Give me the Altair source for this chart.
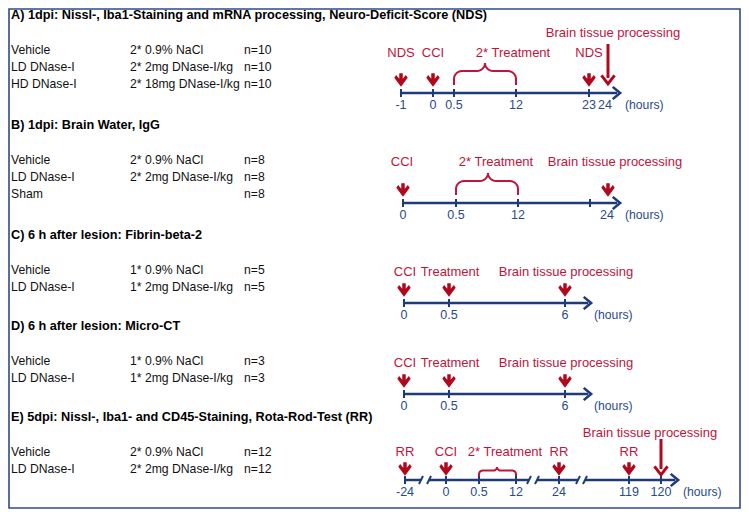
import altair as alt
import pandas as pd
import numpy as np

# ---------------- content ----------------
titles = [
    "A) 1dpi: Nissl-, Iba1-Staining and mRNA processing, Neuro-Deficit-Score (NDS)",
    "B) 1dpi: Brain Water, IgG",
    "C) 6 h after lesion: Fibrin-beta-2",
    "D) 6 h after lesion: Micro-CT",
    "E) 5dpi: Nissl-, Iba1- and CD45-Staining, Rota-Rod-Test (RR)",
]
groups = ["Vehicle", "LD DNase-I", "HD DNase-I",
          "Vehicle", "LD DNase-I", "Sham",
          "Vehicle", "LD DNase-I",
          "Vehicle", "LD DNase-I",
          "Vehicle", "LD DNase-I"]
doses = ["2* 0.9% NaCl", "2* 2mg DNase-I/kg", "2* 18mg DNase-I/kg",
         "2* 0.9% NaCl", "2* 2mg DNase-I/kg", "",
         "1* 0.9% NaCl", "1* 2mg DNase-I/kg",
         "1* 0.9% NaCl", "1* 2mg DNase-I/kg",
         "2* 0.9% NaCl", "2* 2mg DNase-I/kg"]
ns = ["n=10", "n=10", "n=10", "n=8", "n=8", "n=8",
      "n=5", "n=5", "n=3", "n=3", "n=12", "n=12"]

hours_A = ["-1", "0", "0.5", "12", "23", "24"]
hours_B = ["0", "0.5", "12", "24"]
hours_C = ["0", "0.5", "6"]
hours_D = ["0", "0.5", "6"]
hours_E = ["-24", "0", "0.5", "12", "24", "119", "120"]

events_A = ["NDS", "CCI", "2* Treatment", "NDS", "Brain tissue processing"]
events_B = ["CCI", "2* Treatment", "Brain tissue processing"]
events_C = ["CCI", "Treatment", "Brain tissue processing"]
events_D = ["CCI", "Treatment", "Brain tissue processing"]
events_E = ["RR", "CCI", "2* Treatment", "RR", "RR", "Brain tissue processing"]

# ---------------- layout (pixel positions of the schematic) ----------------
title_y = [15, 125, 235, 326, 417]
row_y = [50, 67, 84, 160, 177, 194, 270, 287, 361, 378, 452, 469]
col_x = [11, 130, 244]

axis_y = [93, 203, 303, 394, 480]
hx_A = [401, 433, 454, 516, 589, 605]
hx_B = [403, 456, 518, 607]
hx_C = [404, 449, 565]
hx_D = [404, 449, 565]
hx_E = [405, 446, 479, 516, 559, 629, 661]
ticks_x = [[401, 433, 454, 516, 589], [403, 456, 518, 590], [404, 449, 565],
           [404, 449, 565], [405, 446, 479, 516, 559, 629, 661]]
hours_unit_x = [625, 625, 594, 594, 683]
segments = [[(401, 617)], [(403, 617)], [(404, 588)], [(404, 588)],
            [(405, 421), (429, 529), (537, 578), (585, 675)]]
tips = [620, 620, 591, 591, 678]
breaks_E = [421, 429, 529, 537, 578, 585]

ev_x = [[401, 433, 513, 589, 613], [402, 496, 615], [405, 450, 566],
        [405, 450, 566], [405, 446, 505, 559, 629, 650]]
ev_y = [[53, 53, 53, 53, 33], [162, 162, 162], [272, 272, 272],
        [363, 363, 363], [452, 452, 452, 452, 452, 433]]

short_x = [[401, 433, 589], [403, 608], [404, 449, 565], [404, 449, 565],
           [405, 446, 559, 629]]
short_y = [80, 190, 290, 381, 469]
long_arrows = [(608, 44, 84), (661, 439, 475)]
braces = [(454, 516, 485, 63, 85), (456, 518, 488, 173, 195), (479, 516, 497, 467, 476)]

RED = "#C0143C"
DARKRED = "#B2081E"
NAVY = "#1E3A78"
TICKC = "#2A4A8A"
FRAME = "#2F4C86"
FONT = "Liberation Sans"

XS = alt.Scale(domain=[8, 741], nice=False, zero=False)
YS = alt.Scale(domain=[8, 509], reverse=True, nice=False, zero=False)


def X(f="x"):
    return alt.X(f"{f}:Q", scale=XS, axis=None)


def Y(f="y"):
    return alt.Y(f"{f}:Q", scale=YS, axis=None)


# ---------------- tables ----------------
frame_df = pd.DataFrame({"x": [9], "x2": [740], "y": [9], "y2": [508]})
title_df = pd.DataFrame({"t": titles, "x": col_x[0], "y": title_y})
rows = []
for g, d, n, y in zip(groups, doses, ns, row_y):
    rows += [{"t": g, "x": col_x[0], "y": y}, {"t": d, "x": col_x[1], "y": y},
             {"t": n, "x": col_x[2], "y": y}]
rows_df = pd.DataFrame(rows)

hours_all = [hours_A, hours_B, hours_C, hours_D, hours_E]
hx_all = [hx_A, hx_B, hx_C, hx_D, hx_E]
lab = []
for p in range(5):
    for h, x in zip(hours_all[p], hx_all[p]):
        lab.append({"t": h, "x": x, "y": axis_y[p] + 12})
lab_df = pd.DataFrame(lab)
unit_df = pd.DataFrame({"t": ["(hours)"] * 5, "x": hours_unit_x,
                        "y": [a + 12 for a in axis_y]})

seg = []
for p in range(5):
    for a, b in segments[p]:
        seg.append({"x": a, "x2": b, "y": axis_y[p]})
seg_df = pd.DataFrame(seg)

tk = []
for p in range(5):
    for x in ticks_x[p]:
        tk.append({"x": x, "y": axis_y[p] - 4, "y2": axis_y[p] + 4})
for x in [421, 529, 578]:
    pass
tick_df = pd.DataFrame(tk)
brk_df = pd.DataFrame({"x": [b - 2 for b in breaks_E], "x2": [b + 2 for b in breaks_E],
                       "y": axis_y[4] + 4, "y2": axis_y[4] - 4})
tip_df = pd.DataFrame({"x": [t - 3.6 for t in tips], "y": axis_y})

ev_all = [events_A, events_B, events_C, events_D, events_E]
ev = []
for p in range(5):
    for t, x, y in zip(ev_all[p], ev_x[p], ev_y[p]):
        ev.append({"t": t, "x": x, "y": y})
ev_df = pd.DataFrame(ev)

sa = []
for p in range(5):
    for x in short_x[p]:
        sa.append({"x": x, "y": short_y[p]})
short_df = pd.DataFrame(sa)
long_df = pd.DataFrame({"x": [a[0] for a in long_arrows], "y": [a[1] for a in long_arrows],
                        "y2": [a[2] - 6 for a in long_arrows]})
head_df = pd.DataFrame({"x": [a[0] for a in long_arrows], "y": [a[2] - 4 for a in long_arrows]})


def brace_pts(x1, x2, xt, yt, yb):
    r = min((yb - yt) * 0.4, 8)
    yh = yt + r
    pts = []
    # left end, going up
    pts.append((x1, yb))
    th = np.linspace(np.pi, 1.5 * np.pi, 8)
    for a in th:
        pts.append((x1 + r + r * np.cos(a), yh + r + r * np.sin(a)))
    th = np.linspace(0.5 * np.pi, 0, 8)
    for a in th:
        pts.append((xt - r + r * np.cos(a), yh - r + r * np.sin(a)))
    pts.append((xt, yt))
    th = np.linspace(np.pi, 0.5 * np.pi, 8)
    for a in th:
        pts.append((xt + r + r * np.cos(a), yh - r + r * np.sin(a)))
    th = np.linspace(1.5 * np.pi, 2 * np.pi, 8)
    for a in th:
        pts.append((x2 - r + r * np.cos(a), yh + r + r * np.sin(a)))
    pts.append((x2, yb))
    return pts


br = []
for i, (x1, x2, xt, yt, yb) in enumerate(braces):
    for k, (px, py) in enumerate(brace_pts(x1, x2, xt, yt, yb)):
        br.append({"id": i, "o": k, "x": px, "y": py})
brace_df = pd.DataFrame(br)

# ---------------- marks ----------------
frame = alt.Chart(frame_df).mark_rect(filled=False, stroke=FRAME, strokeWidth=1.6).encode(
    x=X(), x2="x2:Q", y=Y(), y2="y2:Q")

title_l = alt.Chart(title_df).mark_text(align="left", baseline="middle", font=FONT,
                                        fontSize=12.7, fontWeight="bold", color="black").encode(
    x=X(), y=Y(), text="t:N")
rows_l = alt.Chart(rows_df).mark_text(align="left", baseline="middle", font=FONT,
                                      fontSize=12.2, color="#111111").encode(
    x=X(), y=Y(), text="t:N")

seg_l = alt.Chart(seg_df).mark_rule(color=NAVY, strokeWidth=2.5).encode(
    x=X(), x2="x2:Q", y=Y())
tick_l = alt.Chart(tick_df).mark_rule(color=NAVY, strokeWidth=2).encode(
    x=X(), y=Y(), y2="y2:Q")
brk_l = alt.Chart(brk_df).mark_rule(color=NAVY, strokeWidth=2).encode(
    x=X(), x2="x2:Q", y=Y(), y2="y2:Q")
tip_l = alt.Chart(tip_df).mark_point(shape="M-0.6,-1L0.6,0L-0.6,1", filled=False,
                                     stroke=NAVY, strokeWidth=2.6, size=150, opacity=1).encode(
    x=X(), y=Y())
lab_l = alt.Chart(lab_df).mark_text(align="center", baseline="middle", font=FONT,
                                    fontSize=12.5, color=TICKC).encode(
    x=X(), y=Y(), text="t:N")
unit_l = alt.Chart(unit_df).mark_text(align="left", baseline="middle", font=FONT,
                                      fontSize=12.2, color=TICKC).encode(
    x=X(), y=Y(), text="t:N")

ev_l = alt.Chart(ev_df).mark_text(align="center", baseline="middle", font=FONT,
                                  fontSize=13, color=RED).encode(
    x=X(), y=Y(), text="t:N")

ARROW = "M0,1L-1,-0.35L-0.72,-0.75L-0.26,-0.2L-0.26,-1L0.26,-1L0.26,-0.2L0.72,-0.75L1,-0.35Z"
short_l = alt.Chart(short_df).mark_point(shape=ARROW, filled=True, color=DARKRED,
                                         size=180, opacity=1).encode(x=X(), y=Y())
long_l = alt.Chart(long_df).mark_rule(color=DARKRED, strokeWidth=3).encode(
    x=X(), y=Y(), y2="y2:Q")
head_l = alt.Chart(head_df).mark_point(shape="M-1,-0.7L0,0.6L1,-0.7", filled=False,
                                       stroke=DARKRED, strokeWidth=3, size=170,
                                       opacity=1).encode(x=X(), y=Y())
brace_l = alt.Chart(brace_df).mark_line(color=RED, strokeWidth=2, interpolate="linear").encode(
    x=X(), y=Y(), detail="id:N", order="o:Q")

chart = alt.layer(frame, title_l, rows_l, brace_l, seg_l, tick_l, brk_l, tip_l, lab_l,
                  unit_l, ev_l, short_l, long_l, head_l).properties(
    width=733, height=501, padding=0, background="white"
).configure_view(stroke=None)

chart.save("out.html", embed_options={"renderer": "svg", "actions": False})
